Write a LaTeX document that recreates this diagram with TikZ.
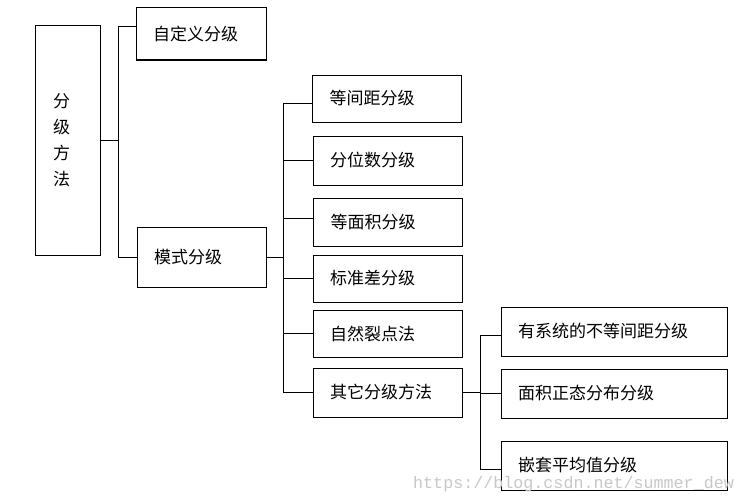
\documentclass[tikz,border=0pt]{standalone}
\usepackage{fontspec}
\newfontfamily\cjk{Noto Sans CJK SC}
\newfontfamily\wmfont{Liberation Mono}
\begin{document}
\begin{tikzpicture}[x=1pt,y=-1pt,
    box/.style={draw,line width=1pt,inner xsep=17pt,inner ysep=0pt,text width=#1,align=left,font=\cjk\fontsize{17pt}{26pt}\selectfont},
    link/.style={line width=0.9pt}]
    \useasboundingbox (0,0) rectangle (746,503);
    \node[box=29pt,inner xsep=18pt,minimum height=229pt] (root) at (67.5,140.5) {分\\级\\方\\法};
    \node[box=96pt,minimum height=52pt] (custom) at (201,34) {自定义分级};
    \node[box=95pt,minimum height=60pt] (mode) at (201.5,257) {模式分级};
    \node[box=115pt,minimum height=47pt] (b1) at (387,98.5) {等间距分级};
    \node[box=115pt,minimum height=49pt] (b2) at (387.5,160.5) {分位数分级};
    \node[box=115pt,minimum height=48pt] (b3) at (388,222) {等面积分级};
    \node[box=115pt,minimum height=47pt] (b4) at (387.5,278.5) {标准差分级};
    \node[box=115pt,minimum height=47pt] (b5) at (387.5,333.5) {自然裂点法};
    \node[box=115pt,minimum height=49pt] (b6) at (387.5,392.5) {其它分级方法};
    \node[box=192pt,minimum height=49pt] (c1) at (614,331.5) {有系统的不等间距分级};
    \node[box=192pt,minimum height=49pt] (c2) at (614,393.5) {面积正态分布分级};
    \node[box=192pt,minimum height=49pt] (c3) at (614,465.5) {嵌套平均值分级};
    % root to first level
    \draw[link] (root.east) -- ++(18,0) coordinate (j1);
    \draw[link] ([yshift=8pt]custom.west) -| (j1) |- (mode.west);
    % mode to second level
    \draw[link] (mode.east) -- ++(17,0) coordinate (j2);
    \draw[link] ([yshift=-4.5pt]b1.west) -| (j2);
    \draw[link] (j2) |- (b2.west);
    \draw[link] (j2) |- ([yshift=4pt]b3.west);
    \draw[link] (j2) |- (b4.west);
    \draw[link] (j2) |- (b5.west);
    \draw[link] (j2) |- (b6.west);
    % other methods to third level
    \draw[link] (b6.east) -- ++(18,0) coordinate (j3);
    \draw[link] ([yshift=-3.5pt]c1.west) -| (j3);
    \draw[link] (j3) |- (c2.west);
    \draw[link] (j3) |- ([yshift=-3.5pt]c3.west);
    \node[anchor=west,text=black!22,inner sep=0pt,font=\wmfont\fontsize{16.7pt}{18pt}\selectfont] (mark) at (413,484) {https://blog.csdn.net/summer\_dew};
\end{tikzpicture}
\end{document}
